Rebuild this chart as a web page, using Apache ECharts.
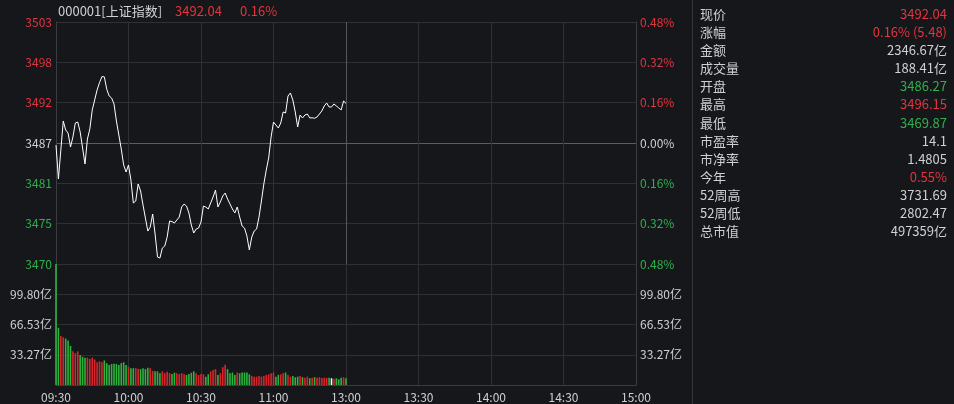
<!DOCTYPE html>
<html><head><meta charset="utf-8">
<script src="https://cdn.jsdelivr.net/npm/echarts@6.0.0/dist/echarts.min.js"></script>
<style>html,body{margin:0;padding:0;background:#16171b;}#c{width:954px;height:404px;}</style>
</head><body><div id="c"></div>
<script>
const stockCode = '000001[上证指数]';
const lastPrice = '3492.04';
const lastPct = '0.16%';
const prevClose = 3486.56;
const timeLabels = ['09:30','10:00','10:30','11:00','13:00','13:30','14:00','14:30','15:00'];
// one value per minute, 09:30 .. 11:30
const prices = [
3486.27,3481.58,3485.59,3489.60,3488.36,3487.94,3486.00,3487.39,3489.33,3489.46,
3488.08,3485.87,3483.65,3487.11,3488.50,3491.13,3492.51,3493.89,3494.90,3495.75,
3495.70,3494.00,3493.06,3492.79,3491.96,3489.60,3487.67,3485.73,3483.52,3482.55,
3483.52,3481.44,3478.26,3478.54,3480.89,3479.92,3477.98,3476.18,3474.38,3474.94,
3476.74,3473.97,3470.79,3470.65,3472.03,3472.31,3473.55,3475.77,3475.70,3475.49,
3475.91,3476.32,3477.71,3478.12,3477.84,3476.88,3475.21,3474.11,3474.66,3474.80,
3475.63,3477.84,3477.70,3477.43,3478.26,3479.09,3480.06,3477.71,3478.40,3479.23,
3479.64,3478.81,3478.12,3477.43,3476.88,3477.71,3476.32,3475.08,3474.80,3473.69,
3471.76,3473.55,3474.38,3474.66,3476.32,3478.54,3480.89,3482.82,3484.48,3487.39,
3489.46,3489.05,3488.63,3489.33,3490.85,3490.71,3493.06,3493.48,3492.51,3490.85,
3488.77,3490.43,3490.02,3490.43,3490.57,3490.02,3490.05,3489.98,3490.16,3490.57,
3490.99,3491.68,3492.09,3491.54,3491.54,3491.96,3491.68,3491.40,3491.13,3492.37,
3492.04];
// 亿, one per minute
const volumes = [
133,62.9,54,52.5,51,49,43,37,35,37,
33,31,30,30,28.5,30,28,25,26,25,
27,24,22,23,23.5,23,22,24,25,22,
20,18.5,18.5,18.5,18,17.5,18.5,17.5,19,18.5,
15.5,15,15,13,15,13,14.5,13,12,13.5,
13,12,13,12,11,12,13.5,15,13,11,
12,11.8,9.2,11.8,14.8,16.6,17.4,11.1,12.9,19.6,
22.2,17.4,12.9,13.7,11.1,13.7,12.9,13.7,13.7,13.7,
11.8,10,9.2,9.2,10,9.2,10,11.1,11.8,12.9,
13.7,9.2,11.1,11.8,12.9,13.7,11.1,9.2,10,8.5,
9.2,10,8.5,8.1,9.2,7.4,8.1,8.5,8.1,8.5,
7.8,8.1,7.8,8.1,7.4,7,7.4,6.3,8.1,8.5,
7.4];
const panelLabels = ['现价','涨幅','金额','成交量','开盘','最高','最低','市盈率','市净率','今年','52周高','52周低','总市值'];
const panelValues = ['3492.04','0.16% (5.48)','2346.67亿','188.41亿','3486.27','3496.15','3469.87','14.1','1.4805','0.55%','3731.69','2802.47','497359亿'];
const panelTone = ['up','up','flat','flat','down','up','down','flat','flat','up','flat','flat','flat'];

const RED = '#e3343d', GREEN = '#2fb04c', TXT = '#cfd0d2';
const BAR_RED = '#d8252b', BAR_GREEN = '#2cb53c';
const GRID = '#2e3035';
const FONT = '"Noto Sans CJK SC", "Noto Sans", sans-serif';
const toneColor = t => t === 'up' ? RED : (t === 'down' ? GREEN : TXT);

const lineData = prices.map((p, i) => [i, (p / prevClose - 1) * 10000]);
const barData = volumes.map((v, i) => {
  const prev = i === 0 ? prevClose : prices[i - 1];
  const c = prices[i] > prev ? BAR_RED : (prices[i] < prev ? BAR_GREEN : '#ffffff');
  return { value: [i, v], itemStyle: { color: c } };
});
const VSTEP = 33.2667;
const volFmt = v => (v <= 0 || v > VSTEP * 3.5) ? '' : v.toFixed(2) + '亿';
const signColor = v => v > 0.01 ? RED : (v < -0.01 ? GREEN : TXT);

const graphics = [
  { type: 'text', x: 58, y: 11, style: { text: stockCode, fill: TXT, font: '13px ' + FONT, verticalAlign: 'middle' } },
  { type: 'text', x: 175, y: 11, style: { text: lastPrice, fill: RED, font: '13px ' + FONT, verticalAlign: 'middle' } },
  { type: 'text', x: 240, y: 11, style: { text: lastPct, fill: RED, font: '13px ' + FONT, verticalAlign: 'middle' } },
  { type: 'rect', shape: { x: 692, y: 0, width: 1, height: 404 }, style: { fill: '#34363a' } }
];
panelLabels.forEach((l, i) => {
  const y = 14 + i * 18.1;
  graphics.push({ type: 'text', x: 700, y: y, style: { text: l, fill: TXT, font: '13px ' + FONT, verticalAlign: 'middle' } });
  graphics.push({ type: 'text', x: 947, y: y, style: { text: panelValues[i], fill: toneColor(panelTone[i]), font: '13px ' + FONT, align: 'right', verticalAlign: 'middle' } });
});

const xCommon = {
  type: 'value', min: 0, max: 240, interval: 30,
  axisTick: { show: false },
  axisLine: { show: false },
  splitLine: { show: true, lineStyle: { color: [GRID, GRID, GRID, GRID, '#55575c', GRID, GRID, GRID, GRID], width: 1 } }
};

const chart = echarts.init(document.getElementById('c'), null, { renderer: 'canvas' });
chart.setOption({
  animation: false,
  backgroundColor: '#16171b',
  textStyle: { fontFamily: FONT },
  graphic: graphics,
  grid: [
    { left: 56, right: 318, top: 22, height: 242 },
    { left: 56, right: 318, top: 264, height: 121 }
  ],
  xAxis: [
    Object.assign({}, xCommon, { gridIndex: 0, axisLabel: { show: false } }),
    Object.assign({}, xCommon, {
      gridIndex: 1,
      splitLine: { show: true, lineStyle: { color: GRID } },
      axisLine: { show: true, lineStyle: { color: '#3a3c41' } },
      axisLabel: { show: true, color: TXT, fontSize: 12, margin: 6, fontFamily: FONT,
        formatter: v => timeLabels[Math.round(v / 30)] }
    })
  ],
  yAxis: [
    { type: 'value', gridIndex: 0, min: -48, max: 48, interval: 16, position: 'left',
      axisLine: { show: true, lineStyle: { color: '#3a3c41' } }, axisTick: { show: false },
      splitLine: { show: true, lineStyle: { color: [GRID, GRID, GRID, '#5a5c60', GRID, GRID, GRID] } },
      axisLabel: { fontSize: 12, margin: 4, fontFamily: FONT,
        formatter: v => Math.round(prevClose * (1 + v / 10000)).toString(),
        color: v => signColor(v) } },
    { type: 'value', gridIndex: 0, min: -48, max: 48, interval: 16, position: 'right',
      axisLine: { show: true, lineStyle: { color: '#3a3c41' } }, axisTick: { show: false },
      splitLine: { show: false },
      axisLabel: { fontSize: 12, margin: 4, fontFamily: FONT,
        formatter: v => Math.abs(v / 100).toFixed(2) + '%',
        color: v => signColor(v) } },
    { type: 'value', gridIndex: 1, min: 0, max: VSTEP * 4, interval: VSTEP, position: 'left',
      axisLine: { show: true, lineStyle: { color: '#3a3c41' } }, axisTick: { show: false },
      splitLine: { show: true, lineStyle: { color: GRID } },
      axisLabel: { fontSize: 12, margin: 4, color: TXT, fontFamily: FONT, formatter: volFmt } },
    { type: 'value', gridIndex: 1, min: 0, max: VSTEP * 4, interval: VSTEP, position: 'right',
      axisLine: { show: true, lineStyle: { color: '#3a3c41' } }, axisTick: { show: false },
      splitLine: { show: false },
      axisLabel: { fontSize: 12, margin: 4, color: TXT, fontFamily: FONT, formatter: volFmt } }
  ],
  series: [
    { type: 'line', xAxisIndex: 0, yAxisIndex: 0, data: lineData, showSymbol: false,
      lineStyle: { color: '#ffffff', width: 1 }, silent: true },
    { type: 'bar', xAxisIndex: 1, yAxisIndex: 2, data: barData, barWidth: 1.6, silent: true }
  ]
});
</script></body></html>
